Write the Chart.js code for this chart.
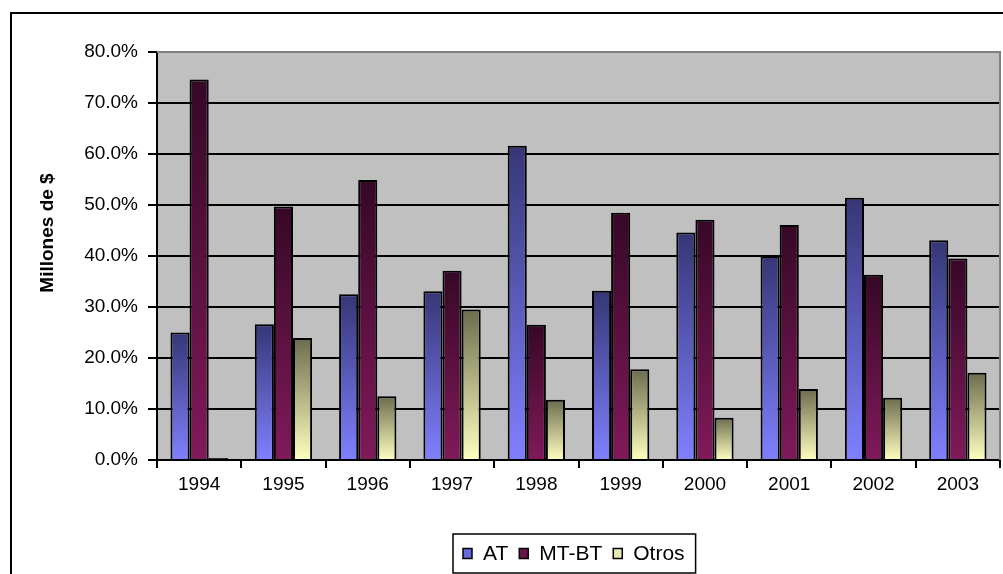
<!DOCTYPE html>
<html>
<head>
<meta charset="utf-8">
<script src="https://cdn.jsdelivr.net/npm/chart.js@4"></script>
<style>
  html, body { margin: 0; padding: 0; background: #fff; }
  #wrap { width: 1003px; height: 574px; position: relative; }
</style>
</head>
<body>
<div id="wrap"><canvas id="grafico"></canvas></div>
<script>
const anios = ["1994", "1995", "1996", "1997", "1998", "1999", "2000", "2001", "2002", "2003"];
const valoresAT = [25.0, 26.6, 32.5, 33.1, 61.6, 33.2, 44.6, 40.0, 51.4, 43.1];
const valoresMTBT = [74.6, 49.7, 54.9, 37.1, 26.5, 48.5, 47.1, 46.1, 36.3, 39.5];
const valoresOtros = [0.4, 23.9, 12.5, 29.5, 11.8, 17.8, 8.3, 13.9, 12.2, 17.1];
const series = ["AT", "MT-BT", "Otros"];
const tituloEje = "Millones de $";

const fuente = "'Liberation Sans', Arial, sans-serif";

// degradado vertical por barra, de oscuro arriba a claro abajo
function degradado(arriba, abajo) {
  return function (context) {
    const chart = context.chart;
    if (!chart.chartArea || context.type !== "data") return abajo;
    const y = chart.scales.y;
    const yTop = y.getPixelForValue(context.raw);
    const yBase = y.getPixelForValue(0);
    if (yBase - yTop < 3) return "#000";
    const g = chart.ctx.createLinearGradient(0, yTop, 0, yBase);
    g.addColorStop(0, arriba);
    g.addColorStop(1, abajo);
    return g;
  };
}

const marco = {
  id: "marco",
  beforeDraw(chart) {
    const ctx = chart.ctx;
    const a = chart.chartArea;
    ctx.save();
    ctx.fillStyle = "#ffffff";
    ctx.fillRect(0, 0, chart.width, chart.height);
    ctx.fillStyle = "#c0c0c0";
    ctx.fillRect(a.left, a.top, a.right - a.left, a.bottom - a.top);
    ctx.restore();
  },
  afterDraw(chart) {
    const ctx = chart.ctx;
    const a = chart.chartArea;
    ctx.save();
    // borde gris del area de trazado
    ctx.strokeStyle = "#808080";
    ctx.lineWidth = 2;
    ctx.beginPath();
    ctx.moveTo(a.left, a.top);
    ctx.lineTo(a.right, a.top);
    ctx.lineTo(a.right, a.bottom);
    ctx.stroke();
    // marco exterior
    ctx.strokeStyle = "#000";
    ctx.lineWidth = 2;
    ctx.strokeRect(11, 13, 1100, 700);
    // titulo del eje
    ctx.fillStyle = "#000";
    ctx.font = "bold 19px " + fuente;
    ctx.textAlign = "center";
    ctx.textBaseline = "middle";
    ctx.translate(48, 233);
    ctx.rotate(-Math.PI / 2);
    ctx.fillText(tituloEje, 0, 0);
    ctx.restore();

    // leyenda
    ctx.save();
    ctx.font = "21px " + fuente;
    ctx.textBaseline = "middle";
    ctx.textAlign = "left";
    const y0 = 534, alto = 39;
    let x = 463;
    const cy = y0 + alto / 2;
    chart.data.datasets.forEach(function (ds) {
      ctx.fillStyle = ds.colorLeyenda;
      ctx.fillRect(x, cy - 5, 9, 10);
      ctx.strokeStyle = "#000";
      ctx.lineWidth = 1.5;
      ctx.strokeRect(x, cy - 5, 9, 10);
      x += 20;
      ctx.fillStyle = "#000";
      ctx.fillText(ds.label, x, cy + 1);
      x += ctx.measureText(ds.label).width + 11;
    });
    ctx.strokeStyle = "#000";
    ctx.lineWidth = 1.5;
    ctx.strokeRect(453, y0, x - 453, alto);
    ctx.restore();
  },
};

const ctx = document.getElementById("grafico").getContext("2d");
new Chart(ctx, {
  type: "bar",
  data: {
    labels: anios,
    datasets: [
      {
        label: series[0],
        data: valoresAT,
        backgroundColor: degradado("#363676", "#8080ff"),
        colorLeyenda: "#6868e0",
        borderColor: "#000",
        borderWidth: 2,
      },
      {
        label: series[1],
        data: valoresMTBT,
        backgroundColor: degradado("#360826", "#801a5a"),
        colorLeyenda: "#6a1448",
        borderColor: "#000",
        borderWidth: 2,
      },
      {
        label: series[2],
        data: valoresOtros,
        backgroundColor: degradado("#6c6c4e", "#ffffc0"),
        colorLeyenda: "#e8e8b0",
        borderColor: "#000",
        borderWidth: 2,
      },
    ],
  },
  options: {
    responsive: true,
    maintainAspectRatio: false,
    animation: false,
    layout: {
      padding: { left: 11, top: 52, right: 3, bottom: 74 },
    },
    datasets: {
      bar: { categoryPercentage: 0.68, barPercentage: 1.0 },
    },
    plugins: {
      legend: { display: false },
      tooltip: { enabled: false },
    },
    scales: {
      x: {
        grid: {
          offset: true,
          drawOnChartArea: false,
          color: "#000",
          tickLength: 8,
          lineWidth: 2,
        },
        border: { color: "#000", width: 2 },
        ticks: {
          color: "#000",
          font: { family: fuente, size: 19 },
          padding: 5,
        },
        afterFit(scale) {
          scale.height = 40;
        },
      },
      y: {
        min: 0,
        max: 80,
        grid: {
          color: function (c) {
            return c.tick && c.tick.value === 80 ? "#808080" : "#000";
          },
          tickColor: "#000",
          tickLength: 9,
          lineWidth: 2,
        },
        border: { color: "#000", width: 2 },
        ticks: {
          stepSize: 10,
          color: "#000",
          font: { family: fuente, size: 19 },
          padding: 10,
          callback: function (v) {
            return v.toFixed(1) + "%";
          },
        },
        afterFit(scale) {
          scale.width = 146;
        },
      },
    },
  },
  plugins: [marco],
});
</script>
</body>
</html>
